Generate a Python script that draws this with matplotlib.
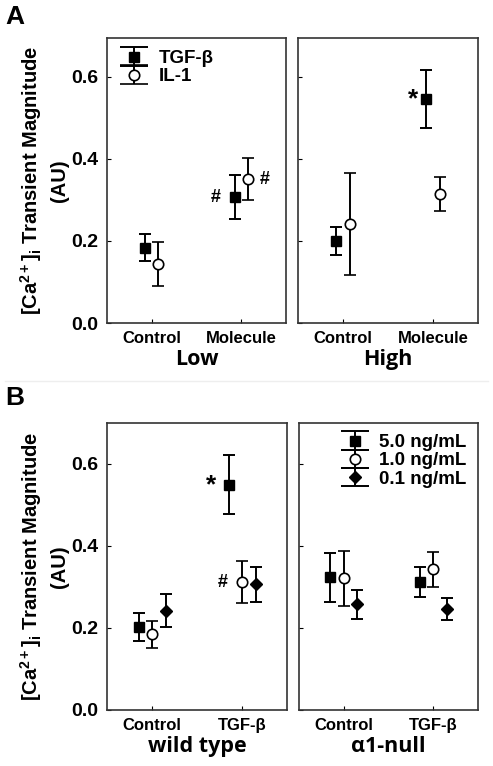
import numpy as np
import matplotlib
matplotlib.use("Agg")
import matplotlib.pyplot as plt
from matplotlib.lines import Line2D

plt.rcParams["font.family"] = ["Liberation Sans", "DejaVu Sans"]
plt.rcParams["font.weight"] = "bold"
plt.rcParams["mathtext.fontset"] = "custom"
plt.rcParams["mathtext.rm"] = "Liberation Sans:bold"
plt.rcParams["mathtext.it"] = "Liberation Sans:bold"
plt.rcParams["mathtext.default"] = "rm"

# panel A data
a_cats = ["Control", "Molecule"]
low_tgf = [0.183, 0.307]
low_tgf_err = [0.033, 0.053]
low_il1 = [0.144, 0.351]
low_il1_err = [0.053, 0.052]
high_tgf = [0.200, 0.546]
high_tgf_err = [0.033, 0.071]
high_il1 = [0.241, 0.315]
high_il1_err = [0.125, 0.042]

# panel B data
b_cats = ["Control", "TGF-β"]
wt_50 = [0.202, 0.549]
wt_50_err = [0.034, 0.072]
wt_10 = [0.185, 0.312]
wt_10_err = [0.033, 0.051]
wt_01 = [0.242, 0.307]
wt_01_err = [0.040, 0.043]
null_50 = [0.324, 0.312]
null_50_err = [0.060, 0.037]
null_10 = [0.321, 0.343]
null_10_err = [0.068, 0.043]
null_01 = [0.258, 0.246]
null_01_err = [0.035, 0.027]

W, H = 493, 766
fig = plt.figure(figsize=(W / 100, H / 100), dpi=100)

def box(x0, x1, ytop, ybot):
    return [x0 / W, 1 - ybot / H, (x1 - x0) / W, (ybot - ytop) / H]

axA1 = fig.add_axes(box(107, 286, 38, 323))
axA2 = fig.add_axes(box(298, 478, 38, 323))
axB1 = fig.add_axes(box(107, 287, 423, 710))
axB2 = fig.add_axes(box(299, 478, 423, 710))

styles = {
    "sq": dict(fmt="s", mfc="black", mec="black", ms=7),
    "ci": dict(fmt="o", mfc="white", mec="black", ms=7.5, mew=1.2),
    "di": dict(fmt="D", mfc="black", mec="black", ms=6.5),
}

def eb(ax, x, y, e, st, cap=4, **kw):
    return ax.errorbar(x, y, yerr=e, color="black", ecolor="black", elinewidth=1.4,
                       capsize=cap, capthick=1.4, **styles[st], **kw)

xa = np.arange(len(a_cats))
xb = np.arange(len(b_cats))
da = 0.075
db = 0.15

eb(axA1, xa - da, low_tgf, low_tgf_err, "sq")
eb(axA1, xa + da, low_il1, low_il1_err, "ci")
eb(axA2, xa - da, high_tgf, high_tgf_err, "sq")
eb(axA2, xa + da, high_il1, high_il1_err, "ci")

eb(axB1, xb - db, wt_50, wt_50_err, "sq")
eb(axB1, xb, wt_10, wt_10_err, "ci")
eb(axB1, xb + db, wt_01, wt_01_err, "di")
eb(axB2, xb - db, null_50, null_50_err, "sq")
eb(axB2, xb, null_10, null_10_err, "ci")
eb(axB2, xb + db, null_01, null_01_err, "di")

# significance marks
axA1.text(1 - da - 0.21, low_tgf[1], "#", ha="center", va="center", fontsize=13)
axA1.text(1 + da + 0.19, low_il1[1], "#", ha="center", va="center", fontsize=13)
axA2.text(1 - da - 0.15, high_tgf[1], "*", ha="center", va="center", fontsize=19)
axB1.text(1 - db - 0.19, wt_50[1], "*", ha="center", va="center", fontsize=19)
axB1.text(1 - 0.21, wt_10[1], "#", ha="center", va="center", fontsize=13)

for ax, cats, top, xl in [(axA1, a_cats, 0.695, "Low"), (axA2, a_cats, 0.695, "High"),
                          (axB1, b_cats, 0.70, "wild type"), (axB2, b_cats, 0.70, "α1-null")]:
    ax.set_xlim(-0.5, 1.5)
    ax.set_ylim(0, top)
    ax.set_xticks(np.arange(len(cats)))
    ax.set_xticklabels(cats, fontsize=12, fontweight="bold")
    ax.set_yticks([0.0, 0.2, 0.4, 0.6])
    ax.tick_params(direction="in", length=3, width=0.8, pad=6)
    for s in ax.spines.values():
        s.set_linewidth(1.2)
        s.set_color("#333333")
    ax.set_xlabel(xl, family="Open Sans", fontsize=15.5, fontweight="bold", labelpad=2)

for ax in (axA1, axB1):
    ax.set_yticklabels(["0.0", "0.2", "0.4", "0.6"], fontsize=14, fontweight="bold")
    ax.set_ylabel("[Ca$^{2+}$]$_{i}$ Transient Magnitude\n(AU)", fontsize=14.5,
                  fontweight="bold", labelpad=2, linespacing=1.4)
for ax in (axA2, axB2):
    ax.set_yticklabels([])

# legend proxies with wide caps
def proxy(ax, st):
    return ax.errorbar([np.nan], [np.nan], yerr=[np.nan], color="black", ecolor="black",
                       elinewidth=1.4, capsize=10, capthick=1.4, **styles[st])

hA = [proxy(axA1, "sq"), proxy(axA1, "ci")]
axA1.legend(hA, ["TGF-β", "IL-1"], loc="upper left", frameon=False,
            handlelength=1.6, handletextpad=0.5, labelspacing=0.05,
            borderaxespad=0.25, prop=dict(weight="bold", size=13.5))
hB = [proxy(axB2, "sq"), proxy(axB2, "ci"), proxy(axB2, "di")]
axB2.legend(hB, ["5.0 ng/mL", "1.0 ng/mL", "0.1 ng/mL"], loc="upper right", frameon=False,
            handlelength=1.6, handletextpad=0.5, labelspacing=0.05,
            borderaxespad=0.2, prop=dict(weight="bold", size=13.5))

fig.text(15 / W, 1 - 17 / H, "A", fontsize=19, fontweight="bold", ha="center", va="center")
fig.text(15 / W, 1 - 398 / H, "B", fontsize=19, fontweight="bold", ha="center", va="center")
fig.add_artist(Line2D([5 / W, 488 / W], [1 - 381 / H, 1 - 381 / H], color="#eeeeee", lw=1))

fig.savefig("out.png", dpi=100)
